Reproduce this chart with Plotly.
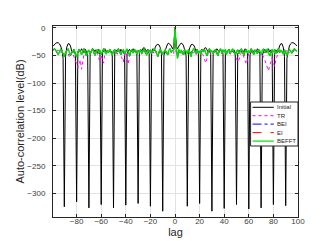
import plotly.graph_objects as go

lags = list(range(-99, 100))

initial_db = [
    -33, -30, -28, -27, -27, -29, -33, -40, -55, -324,
    -52, -35, -29, -29, -33, -42, -45, -40, -48, -315,
    -46, -40, -44, -38, -42, -45, -39, -43, -50, -326,
    -47, -41, -38, -44, -40, -42, -46, -39, -49, -320,
    -45, -42, -38, -43, -41, -44, -40, -42, -47, -326,
    -46, -40, -43, -41, -45, -39, -42, -44, -48, -321,
    -47, -42, -39, -44, -41, -38, -43, -40, -49, -318,
    -46, -39, -42, -37, -36, -40, -43, -39, -47, -323,
    -45, -38, -42, -35, -31, -30, -31, -36, -48, -332,
    -50, -41, -33, -29, -28, -30, -33, -38, -34,
    0,
    -34, -38, -33, -30, -28, -29, -33, -41, -50, -323,
    -48, -36, -31, -30, -31, -35, -42, -39, -47, -318,
    -47, -39, -43, -37, -36, -40, -44, -41, -48, -332,
    -49, -40, -43, -38, -41, -44, -39, -42, -47, -327,
    -48, -44, -42, -39, -45, -41, -43, -40, -46, -320,
    -47, -42, -40, -44, -41, -43, -38, -42, -45, -328,
    -49, -39, -46, -42, -40, -44, -38, -41, -47, -326,
    -50, -43, -39, -45, -42, -38, -44, -40, -46, -320,
    -48, -40, -45, -42, -33, -29, -29, -35, -52, -322,
    -55, -40, -33, -29, -27, -27, -28, -30, -33,
]

tr_db = [
    -41, -39, -42, -44, -40, -43, -46, -41, -45, -50,
    -44, -41, -46, -52, -48, -43, -47, -55, -60, -65,
    -72, -68, -58, -75, -62, -48, -44, -50, -45, -42,
    -46, -43, -41, -47, -44, -42, -48, -55, -62, -50,
    -57, -64, -45, -42, -47, -43, -41, -46, -44, -49,
    -42, -45, -48, -43, -41, -50, -56, -62, -48, -44,
    -58, -66, -52, -45, -42, -47, -44, -41, -46, -43,
    -45, -42, -48, -44, -41, -47, -43, -46, -42, -45,
    -48, -43, -46, -41, -44, -50, -45, -42, -47, -44,
    -43, -46, -41, -44, -48, -42, -45, -43, -47,
    0,
    -44, -47, -42, -45, -43, -48, -41, -46, -44,
    -45, -42, -47, -44, -41, -46, -43, -49, -45, -42,
    -44, -41, -46, -50, -57, -64, -55, -45, -42, -47,
    -43, -46, -41, -44, -48, -42, -45, -43, -47, -44,
    -42, -46, -43, -41, -45, -48, -44, -42, -46, -43,
    -55, -62, -58, -48, -44, -47, -53, -60, -66, -56,
    -45, -42, -46, -43, -41, -47, -44, -42, -46, -49,
    -44, -48, -53, -58, -65, -73, -78, -68, -60, -55,
    -63, -70, -58, -48, -44, -41, -46, -43, -42, -45,
    -44, -41, -43, -46, -42, -40, -44, -41, -43, -42,
]

bei_db = [
    -40, -38, -41, -45, -48, -44, -39, -42, -47, -52,
    -45, -40, -38, -44, -50, -46, -41, -39, -48, -53,
    -44, -39, -43, -49, -42, -38, -45, -51, -43, -40,
    -47, -41, -38, -44, -50, -42, -39, -46, -40, -49,
    -43, -38, -42, -48, -41, -45, -39, -44, -50, -42,
    -39, -46, -41, -38, -44, -49, -42, -40, -47, -43,
    -38, -45, -51, -42, -40, -46, -39, -43, -48, -41,
    -44, -39, -47, -42, -38, -45, -50, -41, -43, -40,
    -46, -42, -38, -41, -47, -52, -44, -39, -42, -48,
    -43, -40, -45, -49, -41, -38, -44, -42, -39,
    0,
    -40, -55, -38, -46, -41, -44, -49, -40, -42,
    -47, -39, -44, -52, -43, -38, -41, -46, -40, -45,
    -42, -48, -39, -43, -40, -45, -51, -42, -38, -44,
    -41, -47, -43, -39, -45, -50, -42, -38, -46, -40,
    -44, -39, -48, -42, -40, -46, -41, -38, -45, -49,
    -43, -40, -47, -41, -38, -44, -50, -42, -39, -46,
    -41, -45, -38, -43, -49, -40, -44, -47, -39, -42,
    -48, -41, -39, -45, -42, -38, -46, -51, -43, -40,
    -44, -39, -47, -42, -38, -45, -41, -43, -48, -40,
    -45, -50, -44, -39, -42, -46, -41, -38, -40, -43,
]

ei_db = [
    -40, -38, -41, -45, -48, -44, -39, -42, -47, -52,
    -45, -40, -38, -44, -50, -46, -41, -39, -48, -53,
    -44, -39, -43, -49, -42, -38, -45, -51, -43, -40,
    -47, -41, -38, -44, -50, -42, -39, -46, -40, -49,
    -43, -38, -42, -48, -41, -45, -39, -44, -50, -42,
    -39, -46, -41, -38, -44, -49, -42, -40, -47, -43,
    -38, -45, -51, -42, -40, -46, -39, -43, -48, -41,
    -44, -39, -47, -42, -38, -45, -50, -41, -43, -40,
    -46, -42, -38, -41, -47, -52, -44, -39, -42, -48,
    -43, -40, -45, -49, -41, -38, -44, -42, -39,
    0,
    -40, -55, -38, -46, -41, -44, -49, -40, -42,
    -47, -39, -44, -52, -43, -38, -41, -46, -40, -45,
    -42, -48, -39, -43, -40, -45, -51, -42, -38, -44,
    -41, -47, -43, -39, -45, -50, -42, -38, -46, -40,
    -44, -39, -48, -42, -40, -46, -41, -38, -45, -49,
    -43, -40, -47, -41, -38, -44, -50, -42, -39, -46,
    -41, -45, -38, -43, -49, -40, -44, -47, -39, -42,
    -48, -41, -39, -45, -42, -38, -46, -51, -43, -40,
    -44, -39, -47, -42, -38, -45, -41, -43, -48, -40,
    -45, -50, -44, -39, -42, -46, -41, -38, -40, -43,
]

befft_db = [
    -40, -38, -41, -45, -48, -44, -39, -42, -47, -52,
    -45, -40, -38, -44, -50, -46, -41, -39, -48, -53,
    -44, -39, -43, -49, -42, -38, -45, -51, -43, -40,
    -47, -41, -38, -44, -50, -42, -39, -46, -40, -49,
    -43, -38, -42, -48, -41, -45, -39, -44, -50, -42,
    -39, -46, -41, -38, -44, -49, -42, -40, -47, -43,
    -38, -45, -51, -42, -40, -46, -39, -43, -48, -41,
    -44, -39, -47, -42, -38, -45, -50, -41, -43, -40,
    -46, -42, -38, -41, -47, -52, -44, -39, -42, -48,
    -43, -40, -45, -49, -41, -38, -44, -42, -39,
    0,
    -40, -55, -38, -46, -41, -44, -49, -40, -42,
    -47, -39, -44, -52, -43, -38, -41, -46, -40, -45,
    -42, -48, -39, -43, -40, -45, -51, -42, -38, -44,
    -41, -47, -43, -39, -45, -50, -42, -38, -46, -40,
    -44, -39, -48, -42, -40, -46, -41, -38, -45, -49,
    -43, -40, -47, -41, -38, -44, -50, -42, -39, -46,
    -41, -45, -38, -43, -49, -40, -44, -47, -39, -42,
    -48, -41, -39, -45, -42, -38, -46, -51, -43, -40,
    -44, -39, -47, -42, -38, -45, -41, -43, -48, -40,
    -45, -50, -44, -39, -42, -46, -41, -38, -40, -43,
]

x_ticks = [-80, -60, -40, -20, 0, 20, 40, 60, 80, 100]
y_ticks = [0, -50, -100, -150, -200, -250, -300]

series = [
    ("Initial", initial_db, "#000000", "solid", 1.0),
    ("TR", tr_db, "#ff00ff", "dot", 1.0),
    ("BEI", bei_db, "#0000ff", "dashdot", 1.0),
    ("EI", ei_db, "#ff0000", "dash", 1.0),
    ("BEFFT", befft_db, "#00e000", "solid", 1.4),
]

fig = go.Figure()
for name, vals, color, dash, w in series:
    fig.add_trace(go.Scatter(x=lags, y=vals, mode="lines", name=name,
                             line=dict(color=color, dash=dash, width=w),
                             showlegend=False))

axis_common = dict(showline=True, linecolor="#262626", linewidth=1, mirror="ticks",
                   ticks="inside", ticklen=3, tickcolor="#262626",
                   showgrid=True, gridcolor="#e3e3e3", gridwidth=1, zeroline=False,
                   tickfont=dict(family="Liberation Sans, Arial", size=8, color="#404040"))

fig.update_xaxes(range=[-99.2, 100], tickvals=x_ticks, ticklabelstandoff=-4,
                 title=dict(text="lag", font=dict(family="Liberation Sans, Arial", size=11, color="#262626"), standoff=2),
                 **axis_common)
fig.update_yaxes(range=[-342.5, 3.2], tickvals=y_ticks, ticklabelstandoff=5,
                 title=dict(text="Auto-correlation level(dB)", font=dict(family="Liberation Sans, Arial", size=11, color="#262626"), standoff=0),
                 **axis_common)

# legend box drawn manually to match the compact original legend
L, W, T, H = 42, 248, 18, 191
def px(xp):
    return (xp - L) / W
def py(yp):
    return (T + H - yp) / H

shapes = [dict(type="rect", xref="paper", yref="paper", x0=px(242), x1=px(290),
               y0=py(138), y1=py(94), fillcolor="white", line=dict(color="#262626", width=1))]
annotations = []
rows = [99.3, 107.7, 116.1, 124.6, 133.1]
for (name, vals, color, dash, w), ry in zip(series, rows):
    shapes.append(dict(type="line", xref="paper", yref="paper", x0=px(244), x1=px(265.5),
                       y0=py(ry), y1=py(ry), line=dict(color=color, dash=dash, width=1.2 if w > 1 else 1)))
    annotations.append(dict(xref="paper", yref="paper", x=px(267), y=py(ry), text=name,
                            showarrow=False, xanchor="left", yanchor="middle",
                            font=dict(family="Liberation Sans, Arial", size=6, color="#262626")))

fig.update_layout(width=321, height=241, margin=dict(l=L, r=321 - L - W, t=T, b=241 - T - H),
                  paper_bgcolor="white", plot_bgcolor="white",
                  shapes=shapes, annotations=annotations, showlegend=False)

fig.write_html("out.html")
